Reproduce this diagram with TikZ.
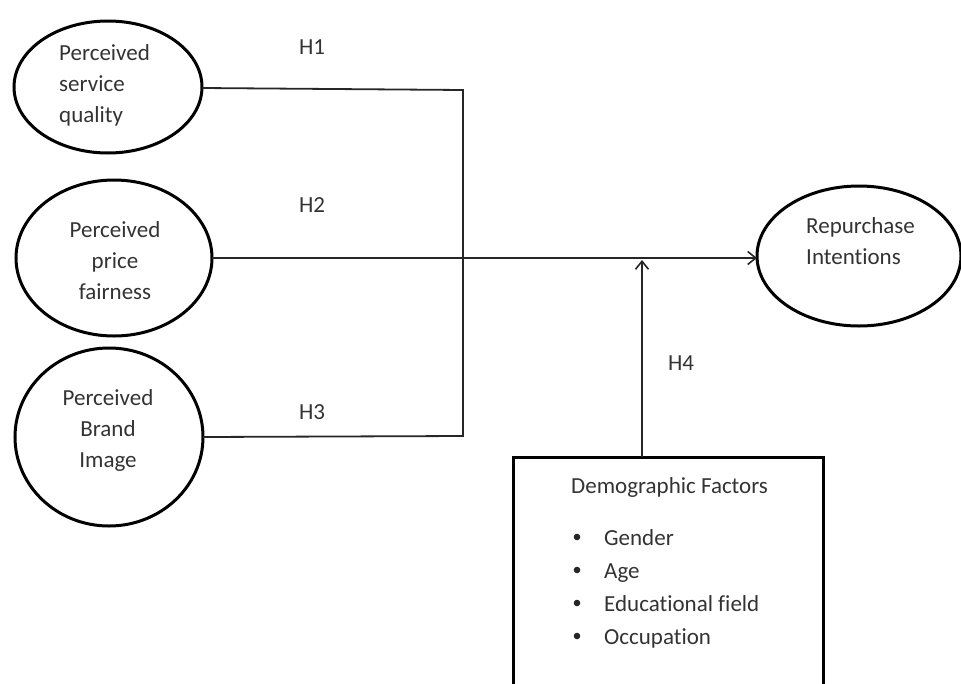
\documentclass[tikz,border=0pt]{standalone}
\usepackage{fontspec}
\setmainfont[Ligatures={NoCommon}]{Carlito}
\usetikzlibrary{arrows.meta,shapes.geometric}
\begin{document}
\begin{tikzpicture}[x=1pt,y=-1pt,
  conn/.style={line width=1.8pt, draw=black!85},
  arr/.style={conn, -{Straight Barb[length=8pt,width=13pt,line width=1.6pt]}},
  lbl/.style={font=\fontsize{23}{27}\selectfont, text=black!80, inner sep=0pt},
  txt/.style={font=\fontsize{23}{31}\selectfont, text=black!80, align=center, inner sep=0pt}
]
\useasboundingbox (0,0) rectangle (961,683);
\begin{scope}
\clip (0,0) rectangle (961,683);
\draw[line width=3pt] (108,87) ellipse [x radius=94, y radius=66];
\draw[line width=3pt] (114,258) ellipse [x radius=98, y radius=78];
\draw[line width=3pt] (109,437) ellipse [x radius=94, y radius=89];
\draw[line width=3pt] (859,256) ellipse [x radius=102, y radius=70];
\draw[line width=3pt] (513,457) rectangle (823,720);
\end{scope}

\coordinate (a1) at (202,88);
\coordinate (a2) at (212,258);
\coordinate (a3) at (203,437);
\coordinate (r) at (757,258);
\coordinate (j1) at (463,90);
\coordinate (j3) at (463,436);
\coordinate (bt) at (642,457);
\coordinate (bh) at (642,260);

\draw[conn] (a1) -- (j1) -- (j3) -- (a3);
\draw[arr] (a2) -- (r);
\draw[arr] (bt) -- (bh);

\node[txt, align=left, anchor=west] (t1) at (59,85) {Perceived\\service\\quality};
\node[txt] (t2) at (115,261) {Perceived\\price\\fairness};
\node[txt] (t3) at (108,430) {Perceived\\Brand\\Image};
\node[txt, align=left, anchor=west] (t4) at (806,241) {Repurchase\\Intentions};

\node[lbl] (h1) at (312,47) {H1};
\node[lbl] (h2) at (312,205) {H2};
\node[lbl] (h3) at (312,412) {H3};
\node[lbl] (h4) at (681,363) {H4};

\node[lbl, anchor=west] (df) at (571,487) {Demographic Factors};
\foreach \y/\t in {537/Gender,570/Age,603/Educational field,636/Occupation}{
  \fill[black!85] (577,\y) circle (3.3pt);
  \node[lbl, anchor=base west] at (604,\y+8) {\t};
}
\end{tikzpicture}
\end{document}
